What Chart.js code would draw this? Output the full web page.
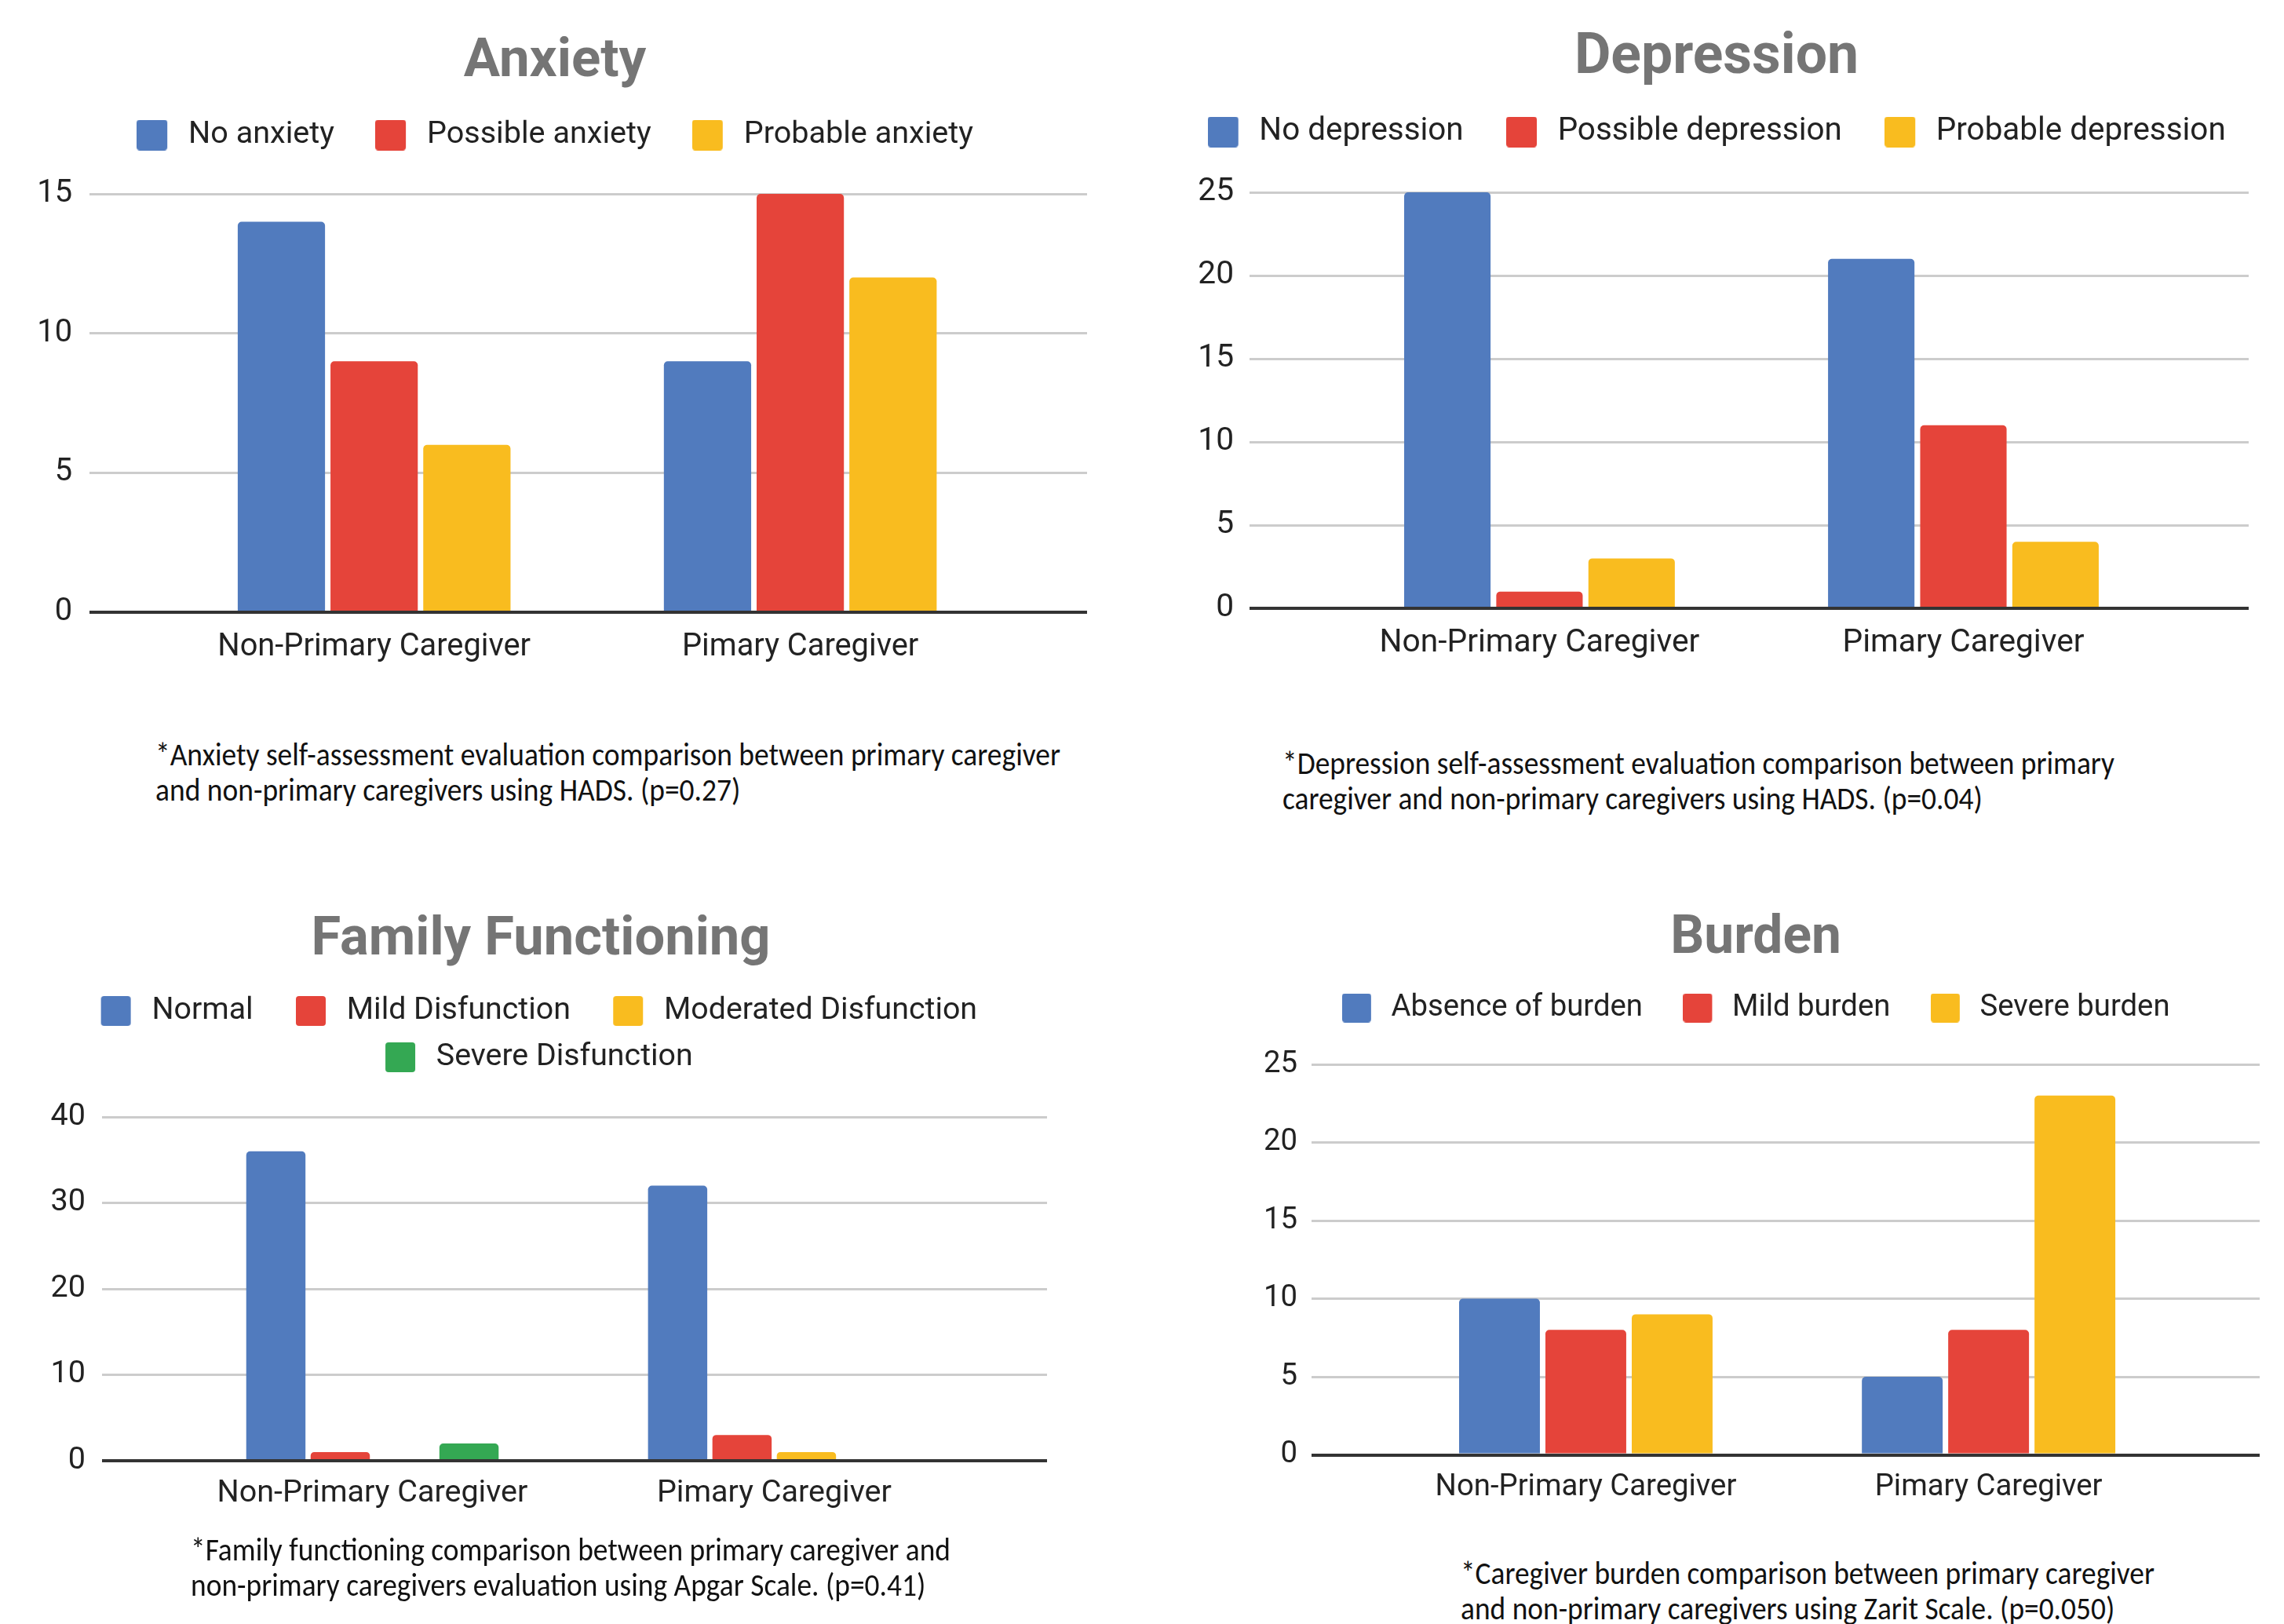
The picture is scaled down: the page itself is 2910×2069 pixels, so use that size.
<!DOCTYPE html>
<html>
<head>
<meta charset="utf-8">
<script src="https://cdn.jsdelivr.net/npm/chart.js@4.4.0/dist/chart.umd.min.js"></script>
<style>
  html, body { margin: 0; padding: 0; background: #fff; overflow: hidden; }
  body { width: 2910px; height: 2069px; position: relative; }
  canvas { position: absolute; }
  .note { position: absolute; font-family: Carlito, "Open Sans", sans-serif; font-size: 40px; line-height: 45px; color: #111; white-space: nowrap; transform-origin: 0 0; }
  .note span { display: block; width: max-content; }
</style>
</head>
<body>
<canvas id="anxiety"></canvas>
<canvas id="depression"></canvas>
<canvas id="family"></canvas>
<canvas id="burden"></canvas>
<script>
// groups on the x axis (the typo is in the original)
const groups = ["Non-Primary Caregiver", "Pimary Caregiver"];

// Anxiety (HADS)
const anxietyLevels = ["No anxiety", "Possible anxiety", "Probable anxiety"];
const noAnxiety = [14, 9];
const possibleAnxiety = [9, 15];
const probableAnxiety = [6, 12];
const anxietyMax = 15, anxietyStep = 5;

// Depression (HADS)
const depressionLevels = ["No depression", "Possible depression", "Probable depression"];
const noDepression = [25, 21];
const possibleDepression = [1, 11];
const probableDepression = [3, 4];
const depressionMax = 25, depressionStep = 5;

// Family functioning (Apgar)
const familyLevels = ["Normal", "Mild Disfunction", "Moderated Disfunction", "Severe Disfunction"];
const normalFamily = [36, 32];
const mildDisfunction = [1, 3];
const moderatedDisfunction = [0, 1];
const severeDisfunction = [2, 0];
const familyMax = 40, familyStep = 10;

// Burden (Zarit)
const burdenLevels = ["Absence of burden", "Mild burden", "Severe burden"];
const absenceOfBurden = [10, 5];
const mildBurden = [8, 8];
const severeBurden = [9, 23];
const burdenMax = 25, burdenStep = 5;

const anxietyNote = ["*Anxiety self-assessment evaluation comparison between primary caregiver", "and non-primary caregivers using HADS. (p=0.27)"];
const depressionNote = ["*Depression self-assessment evaluation comparison between primary", "caregiver and non-primary caregivers using HADS. (p=0.04)"];
const familyNote = ["*Family functioning comparison between primary caregiver and", "non-primary caregivers evaluation using Apgar Scale. (p=0.41)"];
const burdenNote = ["*Caregiver burden comparison between primary caregiver", "and non-primary caregivers using Zarit Scale. (p=0.050)"];

const seriesColors = ["#517bbe", "#e5443a", "#f9bc1f", "#34a853"];

Chart.defaults.font.family = "Roboto";

// layout of each panel, in page pixels
const panels = [
  { id: "anxiety", title: "Anxiety", names: anxietyLevels, values: [noAnxiety, possibleAnxiety, probableAnxiety], max: anxietyMax, step: anxietyStep,
    box: { left: 0, top: 0, width: 1414, height: 880 }, yWidth: 114, rightPad: 29, tickPad: 22,
    ts: 69, fs: 39.8, legendFs: 39.6, textGap: 27,
    titleY: 80, legendY: 172, rows: 1, gap: 52, lead: 0, trail: 0,
    chartTop: 247, chartBottom: 780, labelY: 825, ext: [0.168, 0.173], cat: 0.653, bar: 0.941 },
  { id: "depression", title: "Depression", names: depressionLevels, values: [noDepression, possibleDepression, probableDepression], max: depressionMax, step: depressionStep,
    box: { left: 1420, top: 0, width: 1534, height: 880 }, yWidth: 172, rightPad: 89, tickPad: 20,
    ts: 71.5, fs: 40.7, legendFs: 40.4, textGap: 27,
    titleY: 75, legendY: 168, rows: 1, gap: 54, lead: 0, trail: 0,
    chartTop: 245, chartBottom: 775, labelY: 820, ext: [0.184, 0.173], cat: 0.652, bar: 0.938 },
  { id: "family", title: "Family Functioning", names: familyLevels, values: [normalFamily, mildDisfunction, moderatedDisfunction, severeDisfunction], max: familyMax, step: familyStep,
    box: { left: 0, top: 1100, width: 1378, height: 860 }, yWidth: 130, rightPad: 44, tickPad: 21,
    ts: 68.7, fs: 39.5, legendFs: 39.3, textGap: 27,
    titleY: 99, legendY: 188, rows: 2, gap: 19.7, lead: 15, trail: 2,
    chartTop: 323, chartBottom: 761, labelY: 803, ext: [0.173, 0.179], cat: 0.641, bar: 0.92 },
  { id: "burden", title: "Burden", names: burdenLevels, values: [absenceOfBurden, mildBurden, severeBurden], max: burdenMax, step: burdenStep,
    box: { left: 1440, top: 1100, width: 1594, height: 860 }, yWidth: 231, rightPad: 155, tickPad: 18,
    ts: 67.6, fs: 38.3, legendFs: 38.3, textGap: 26,
    titleY: 97, legendY: 184, rows: 1, gap: 51, lead: 0, trail: 0,
    chartTop: 256, chartBottom: 753.5, labelY: 795.5, ext: [0.181, 0.173], cat: 0.643, bar: 0.936 },
];

const notes = [
  { lines: anxietyNote, left: 198, top: 938.5, width: 1153 },
  { lines: depressionNote, left: 1634, top: 949.5, width: 1060 },
  { lines: familyNote, left: 243, top: 1951.5, width: 968 },
  { lines: burdenNote, left: 1861, top: 1981.5, width: 884 },
];

// legend square, with some blank after it so the text sits further away
function swatch(color, lead, size, after) {
  const c = document.createElement("canvas");
  c.width = lead + size + after;
  c.height = size;
  const g = c.getContext("2d");
  g.fillStyle = color;
  g.beginPath();
  g.roundRect(lead, 0, size, size, 4);
  g.fill();
  return c;
}

function drawPanel(p) {
  const canvas = document.getElementById(p.id);
  canvas.width = p.box.width;
  canvas.height = p.box.height;
  canvas.style.left = p.box.left + "px";
  canvas.style.top = p.box.top + "px";

  const fs = p.fs;
  const lfs = p.legendFs;
  const titleTop = p.titleY - p.ts / 2;
  const legendTop = p.legendY - p.gap - lfs / 2;
  const legendBottom = legendTop + p.rows * (lfs + p.gap) + 10;
  const trail = " ".repeat(p.trail);
  const boxSize = Math.round(lfs) - 1;
  const after = p.textGap - lfs / 2;

  new Chart(canvas, {
    type: "bar",
    data: {
      datasets: p.names.map((name, i) => ({
        label: name,
        yAxisID: "y",
        data: p.values[i].map((v, j) => ({ x: j, y: v })),
        backgroundColor: seriesColors[i],
        borderRadius: 5,
        categoryPercentage: p.cat,
        barPercentage: p.bar,
      })),
    },
    options: {
      responsive: false,
      animation: false,
      layout: { padding: 0 },
      plugins: {
        title: {
          display: true,
          text: p.title,
          color: "#757575",
          font: { size: p.ts, weight: "bold", lineHeight: 1 },
          padding: { top: titleTop, bottom: legendTop - titleTop - p.ts },
        },
        legend: {
          display: true,
          position: "top",
          labels: {
            usePointStyle: true,
            pointStyleWidth: p.lead + boxSize + after,
            padding: p.gap,
            color: "#222",
            font: { size: lfs },
            generateLabels: (chart) =>
              Chart.defaults.plugins.legend.labels.generateLabels(chart).map((item, i) => ({
                ...item,
                text: item.text + trail,
                pointStyle: swatch(seriesColors[i], p.lead, boxSize, after),
              })),
          },
        },
        // empty subtitle used as a spacer between legend and plot
        subtitle: {
          display: true,
          text: "",
          weight: 500,
          font: { size: 1, lineHeight: 1 },
          padding: { top: p.chartTop - legendBottom - 1, bottom: 0 },
        },
        tooltip: { enabled: false },
      },
      scales: {
        x: {
          type: "linear",
          min: -0.5 - p.ext[0],
          max: 1.5 + p.ext[1],
          offset: false,
          grid: { display: false, drawTicks: false, offset: false },
          border: { display: false },
          afterBuildTicks: (s) => { s.ticks = groups.map((g, i) => ({ value: i })); },
          afterFit: (s) => { s.height = p.box.height - p.chartBottom; },
          ticks: {
            autoSkip: false,
            maxRotation: 0,
            padding: p.labelY - p.chartBottom - 0.6 * fs,
            color: "#222",
            font: { size: fs },
            callback: (v) => groups[v],
          },
        },
        y: {
          min: 0,
          max: p.max,
          ticks: { stepSize: p.step, padding: p.tickPad, color: "#222", font: { size: fs } },
          grid: {
            drawTicks: false,
            color: (c) => (c.tick.value === 0 ? "#333333" : "#cccccc"),
            lineWidth: (c) => (c.tick.value === 0 ? 4 : 3),
          },
          border: { display: false },
          afterFit: (s) => { s.width = p.yWidth; },
        },
        pad: {
          type: "linear",
          position: "right",
          grid: { display: false },
          border: { display: false },
          ticks: { display: false },
          afterFit: (s) => { s.width = p.rightPad; },
        },
      },
    },
  });
}

function drawNote(n) {
  const div = document.createElement("div");
  div.className = "note";
  div.style.left = n.left + "px";
  div.style.top = n.top + "px";
  n.lines.forEach((line) => {
    const span = document.createElement("span");
    span.textContent = line;
    div.appendChild(span);
  });
  document.body.appendChild(div);
  const w = div.firstChild.getBoundingClientRect().width;
  div.style.transform = "scaleX(" + n.width / w + ")";
}

document.fonts.ready.then(() => {
  panels.forEach(drawPanel);
  notes.forEach(drawNote);
});
</script>
</body>
</html>
